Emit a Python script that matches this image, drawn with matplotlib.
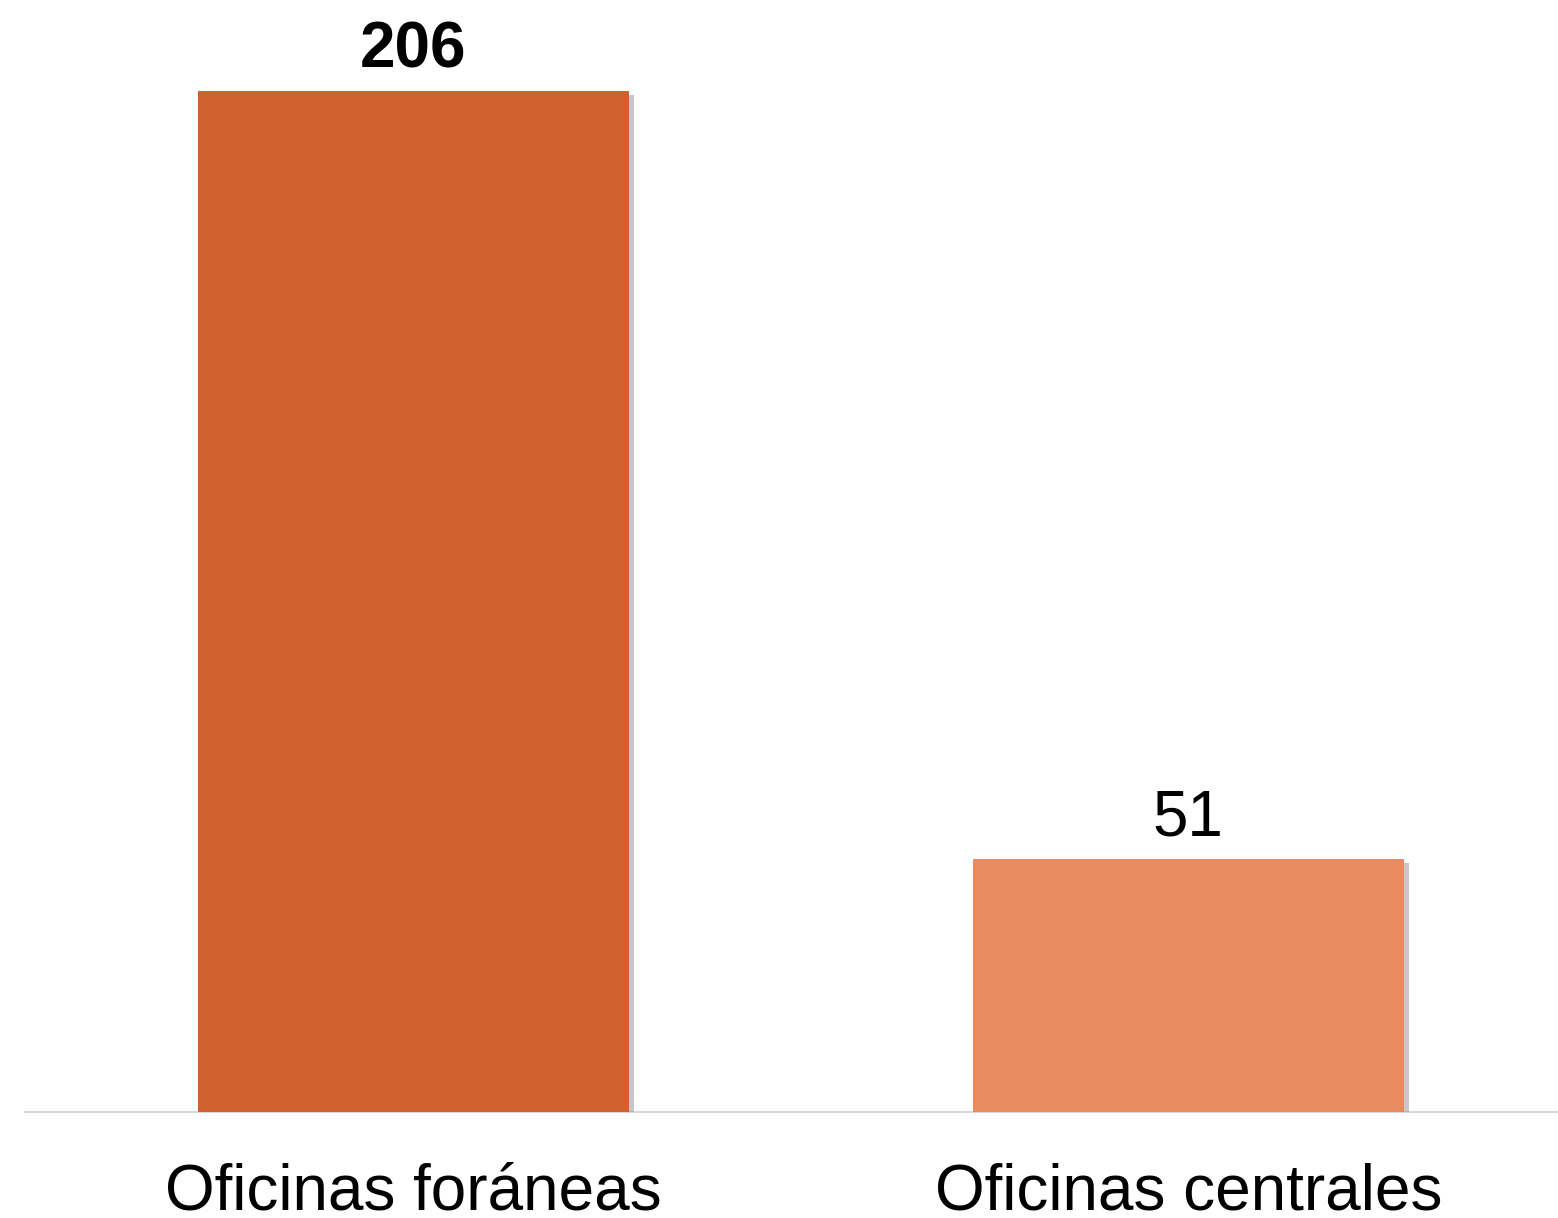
import matplotlib.pyplot as plt
import matplotlib.patheffects as pe

categories = ['Oficinas foráneas', 'Oficinas centrales']
values = [206, 51]
value_labels = ['206', '51']
colors = ['#D16230', '#E98A60']

plt.rcParams['font.family'] = ['Liberation Sans', 'DejaVu Sans']

fig = plt.figure(figsize=(15.58, 12.18), dpi=100)
ax = fig.add_axes([25 / 1558, 106 / 1218, 1533 / 1558, 1112 / 1218])

x = list(range(len(categories)))
bars = ax.bar(x, values, width=0.556, color=colors, zorder=2)
for b in bars:
    b.set_path_effects([pe.SimplePatchShadow(offset=(4, -3), shadow_rgbFace='#909090', alpha=0.5), pe.Normal()])

# value labels, first one bold like the original
for i, (v, lab) in enumerate(zip(values, value_labels)):
    ax.annotate(lab, (x[i], v), xytext=(0, 8), textcoords='offset points',
                ha='center', va='bottom', fontsize=46,
                fontweight='bold' if i == 0 else 'normal')

ax.set_xlim(-0.501, 1.477)
ax.set_ylim(0, 224.4)
ax.set_xticks(x)
ax.set_xticklabels(categories, fontsize=46)
ax.tick_params(axis='x', length=0, pad=36)
ax.set_yticks([])
for s in ['top', 'right', 'left']:
    ax.spines[s].set_visible(False)
ax.spines['bottom'].set_color('#d9d9d9')
ax.spines['bottom'].set_linewidth(1.5)
ax.spines['bottom'].set_zorder(1)

fig.savefig('out.png', dpi=100)
